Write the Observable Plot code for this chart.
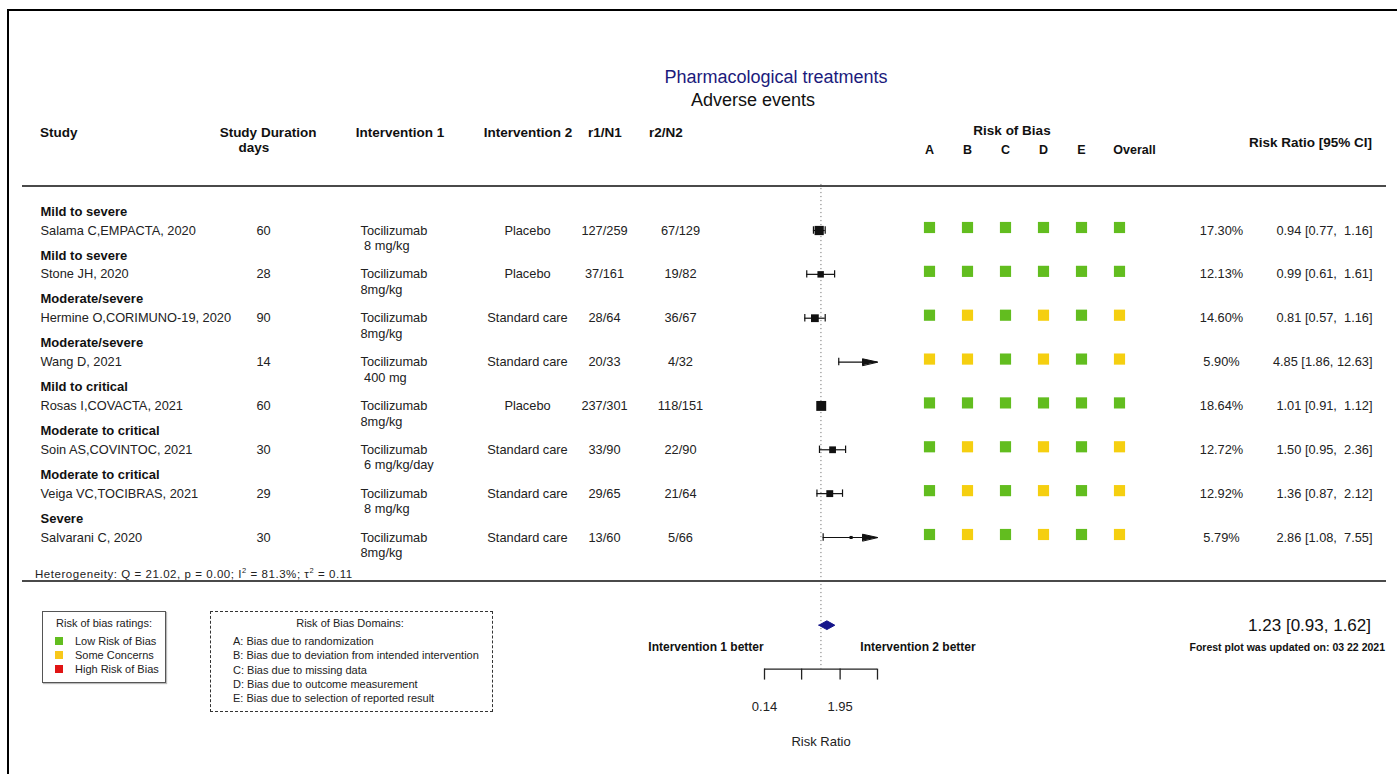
<!DOCTYPE html>
<html><head><meta charset="utf-8">
<script src="https://cdn.jsdelivr.net/npm/d3@7"></script>
<script src="https://cdn.jsdelivr.net/npm/@observablehq/plot@0.6"></script>
<style>
body{margin:0;background:#fff;font-family:"Liberation Sans",Arial,sans-serif;}
#chart{position:relative;width:1397px;height:774px;overflow:hidden;background:#fff;}
#chart svg{position:absolute;left:0;top:0;overflow:visible;}
#chart svg text{white-space:pre;}
.t{position:absolute;white-space:pre;color:#222;line-height:1;}
.box{position:absolute;box-sizing:border-box;}
</style></head><body><div id="chart"></div>
<script>
// ---------- data ----------
const studies = ["Salama C,EMPACTA, 2020", "Stone JH, 2020", "Hermine O,CORIMUNO-19, 2020", "Wang D, 2021",
  "Rosas I,COVACTA, 2021", "Soin AS,COVINTOC, 2021", "Veiga VC,TOCIBRAS, 2021", "Salvarani C, 2020"];
const severity = ["Mild to severe", "Mild to severe", "Moderate/severe", "Moderate/severe",
  "Mild to critical", "Moderate to critical", "Moderate to critical", "Severe"];
const durationDays = [60, 28, 90, 14, 60, 30, 29, 30];
const intervention1 = ["Tocilizumab", "Tocilizumab", "Tocilizumab", "Tocilizumab", "Tocilizumab", "Tocilizumab", "Tocilizumab", "Tocilizumab"];
const doses = [" 8 mg/kg", "8mg/kg", "8mg/kg", " 400 mg", "8mg/kg", " 6 mg/kg/day", " 8 mg/kg", "8mg/kg"];
const intervention2 = ["Placebo", "Placebo", "Standard care", "Standard care", "Placebo", "Standard care", "Standard care", "Standard care"];
const events1 = ["127/259", "37/161", "28/64", "20/33", "237/301", "33/90", "29/65", "13/60"];
const events2 = ["67/129", "19/82", "36/67", "4/32", "118/151", "22/90", "21/64", "5/66"];
const weights = [17.30, 12.13, 14.60, 5.90, 18.64, 12.72, 12.92, 5.79];
const riskRatio = [0.94, 0.99, 0.81, 4.85, 1.01, 1.50, 1.36, 2.86];
const ciLower = [0.77, 0.61, 0.57, 1.86, 0.91, 0.95, 0.87, 1.08];
const ciUpper = [1.16, 1.61, 1.16, 12.63, 1.12, 2.36, 2.12, 7.55];
const robDomains = ["A", "B", "C", "D", "E", "Overall"];
const robRatings = [
  ["Low", "Low", "Low", "Low", "Low", "Low"],
  ["Low", "Low", "Low", "Low", "Low", "Low"],
  ["Low", "Some", "Low", "Some", "Low", "Some"],
  ["Some", "Some", "Low", "Some", "Low", "Some"],
  ["Low", "Low", "Low", "Low", "Low", "Low"],
  ["Low", "Some", "Low", "Some", "Low", "Some"],
  ["Low", "Some", "Low", "Some", "Low", "Some"],
  ["Low", "Some", "Low", "Some", "Low", "Some"]
];
const robLevels = ["Low", "Some", "High"];
const robLevelLabels = ["Low Risk of Bias", "Some Concerns", "High Risk of Bias"];
const robColors = ["#62bd1f", "#f5cf10", "#e01414"];
const legendSwatchColors = ["#62bd1f", "#f8c81a", "#e01414"];
const robDomainLabels = ["A: Bias due to randomization", "B: Bias due to deviation from intended intervention",
  "C: Bias due to missing data", "D: Bias due to outcome measurement", "E: Bias due to selection of reported result"];
const axisTicks = [0.14, 0.51, 1.95, 7.17];
const axisLabelledTicks = [0.14, 1.95];
const summaryRR = [1.23, 0.93, 1.62];
const heterogeneity = ["21.02", "0.00", "81.3%", "0.11"];

// ---------- layout ----------
const W = 1397, H = 774;
const yScale = {domain: [0, 9], range: [230, 624.7], axis: null};   // row index -> pixels
const xMin = axisTicks[0], xMax = axisTicks[axisTicks.length - 1];
const font = "'Liberation Sans', Arial, sans-serif";
const ink = "#222";

const rows = studies.map((s, i) => ({
  i, study: s, sev: severity[i], dur: String(durationDays[i]), int1: intervention1[i], dose: doses[i],
  int2: intervention2[i], e1: events1[i], e2: events2[i], w: weights[i], rr: riskRatio[i],
  lo: ciLower[i], hi: ciUpper[i]
}));
const fmtCI = (rr, lo, hi) => `${rr.toFixed(2)} [${lo.toFixed(2)}, ${hi.toFixed(2).padStart(5)}]`;
const robCells = rows.flatMap(r => robDomains.map((dm, j) => ({i: r.i, domain: dm, rating: robRatings[r.i][j]})));

const chart = document.getElementById("chart");

// forest plot
const arrowHead = {draw(ctx, l) { ctx.moveTo(0, -l); ctx.lineTo(-3.3, 0); ctx.lineTo(3.3, 0); ctx.closePath(); }};
const diamond = [
  {x: summaryRR[1], y: 9}, {x: summaryRR[0], y: 9 - 0.1}, {x: summaryRR[2], y: 9}, {x: summaryRR[0], y: 9 + 0.1}, {x: summaryRR[1], y: 9}
];
const axisRow = 10;

const forest = Plot.plot({
  width: W, height: H, marginTop: 0, marginLeft: 0, marginRight: 0, marginBottom: H - 668.6,
  style: {fontFamily: font, fontSize: "13px", color: ink, background: "transparent"},
  x: {type: "log", domain: [xMin, xMax], range: [764, 877]},
  y: yScale,
  r: {type: "linear", domain: [0, d3.max(weights)], range: [0, 5.6]},
  marks: [
    Plot.ruleX([1], {y1: -1.05, y2: axisRow, stroke: "#777", strokeDasharray: "1.2,2.8", strokeWidth: 1}),
    Plot.ruleY(rows, {y: "i", x1: "lo", x2: d => Math.min(d.hi, xMax), stroke: "#111", strokeWidth: 1.2}),
    Plot.ruleX(rows, {x: "lo", y1: d => d.i - 0.085, y2: d => d.i + 0.085, stroke: "#111", strokeWidth: 1.2}),
    Plot.ruleX(rows.filter(d => d.hi <= xMax), {x: "hi", y1: d => d.i - 0.085, y2: d => d.i + 0.085, stroke: "#111", strokeWidth: 1.2}),
    Plot.dot(rows, {x: "rr", y: "i", r: "w", symbol: "square", fill: "#111", stroke: null}),
    Plot.vector(rows.filter(d => d.hi > xMax), {x: xMax, y: "i", rotate: 90, length: 15, anchor: "end", shape: arrowHead, fill: "#111", stroke: "#111", strokeWidth: 1}),
    Plot.line(diamond, {x: "x", y: "y", fill: "#14148a", stroke: "#14148a", strokeWidth: 1}),
    Plot.ruleY([axisRow], {x1: xMin, x2: xMax, stroke: "#222", strokeWidth: 1.3}),
    Plot.axisX(axisTicks, {anchor: "bottom", tickSize: 11, strokeWidth: 1.3, tickFormat: null, label: null}),
    Plot.text(axisLabelledTicks, {x: d => d, y: axisRow, dy: 38, text: d => d.toFixed(2), fontSize: 13, fill: ink}),
    Plot.text(["Risk Ratio"], {x: Math.sqrt(xMin * xMax), y: axisRow, dy: 73, text: d => d, fontSize: 13, fill: ink})
  ]
});
chart.appendChild(forest);

// table + risk of bias grid
const tcol = {study: 40, dur: 263, int1: 360, int2: 527, e1: 604, e2: 680, w: 1221, ci: 1372};
const txt = (field, dx, anchor, extra = {}) =>
  Plot.text(rows, {y: "i", text: field, frameAnchor: "left", dx, textAnchor: anchor, fill: ink, fontSize: 12.8, ...extra});
const grid = Plot.plot({
  width: W, height: H, margin: 0,
  style: {fontFamily: font, fontSize: "13px", color: ink, background: "transparent"},
  x: {type: "point", domain: robDomains, range: [929, 1119], padding: 0, axis: null},
  y: yScale,
  color: {domain: robLevels, range: robColors},
  marks: [
    Plot.dot(robCells, {x: "domain", y: "i", fill: "rating", symbol: "square", r: 6.3, dy: -3}),
    Plot.text(robDomains.slice(0, 5), {x: d => d, y: -1.83, text: d => d, fontWeight: "bold", fontSize: 12.5, fill: "#111"}),
    Plot.text(robDomains.slice(5), {x: d => d, y: -1.83, text: d => d, dx: 15, fontWeight: "bold", fontSize: 12.5, fill: "#111"}),
    txt("sev", tcol.study, "start", {dy: -19, fontWeight: "bold", fontSize: 13, fill: "#111"}),
    txt("study", tcol.study, "start"),
    txt("dur", tcol.dur, "middle"),
    txt("int1", tcol.int1, "start"),
    txt("dose", tcol.int1, "start", {dy: 15.5}),
    txt("int2", tcol.int2, "middle"),
    txt("e1", tcol.e1, "middle"),
    txt("e2", tcol.e2, "middle"),
    txt(d => d.w.toFixed(2) + "%", tcol.w, "middle"),
    txt(d => fmtCI(d.rr, d.lo, d.hi), tcol.ci, "end")
  ]
});
chart.appendChild(grid);

// ---------- html text & decorations ----------
function label(html, x, y, o = {}) {
  const el = document.createElement("div");
  el.className = "t";
  el.innerHTML = html;
  const a = o.anchor || "start";
  el.style.left = x + "px"; el.style.top = y + "px";
  el.style.transform = `translate(${a === "middle" ? "-50%" : a === "end" ? "-100%" : "0"},-50%)`;
  el.style.fontSize = (o.size || 13) + "px";
  if (o.bold) el.style.fontWeight = "bold";
  if (o.color) el.style.color = o.color;
  if (o.spacing) el.style.letterSpacing = o.spacing + "px";
  chart.appendChild(el);
  return el;
}
function box(x, y, w, h, css) {
  const el = document.createElement("div");
  el.className = "box";
  Object.assign(el.style, {left: x + "px", top: y + "px", width: w + "px", height: h + "px"}, css);
  chart.appendChild(el);
  return el;
}
// frame
box(7, 9, 1392, 2, {background: "#000"});
box(7, 9, 2, 770, {background: "#000"});
// rules
box(22, 185, 1364, 2, {background: "#4a4a4a"});
box(22, 580, 1364, 2, {background: "#4a4a4a"});

label("Pharmacological treatments", 776, 77, {anchor: "middle", size: 18, color: "#1b1b7c"});
label("Adverse events", 753, 100, {anchor: "middle", size: 18, color: "#111"});

const H1 = {bold: true, size: 13.5, color: "#111"};
label("Study", 40, 133, H1);
label("Study Duration", 268, 133, {...H1, anchor: "middle"});
label("days", 254, 148, {...H1, anchor: "middle"});
label("Intervention 1", 400, 133, {...H1, anchor: "middle"});
label("Intervention 2", 528, 133, {...H1, anchor: "middle"});
label("r1/N1", 605, 133, {...H1, anchor: "middle"});
label("r2/N2", 666, 133, {...H1, anchor: "middle"});
label("Risk of Bias", 1012, 131, {...H1, anchor: "middle"});
label("Risk Ratio [95% CI]", 1372, 143, {...H1, anchor: "end"});

label(`Heterogeneity: Q = ${heterogeneity[0]}, p = ${heterogeneity[1]}; I<sup style="font-size:7.5px">2</sup> = ${heterogeneity[2]}; τ<sup style="font-size:7.5px">2</sup> = ${heterogeneity[3]}`, 35, 574, {size: 11.5, spacing: 0.55});

label("Intervention 1 better", 706, 647, {anchor: "middle", bold: true, size: 12, color: "#111"});
label("Intervention 2 better", 918, 647, {anchor: "middle", bold: true, size: 12, color: "#111"});
label(`${summaryRR[0].toFixed(2)} [${summaryRR[1].toFixed(2)}, ${summaryRR[2].toFixed(2)}]`, 1371, 625, {anchor: "end", size: 17, color: "#111"});
label("Forest plot was updated on: 03 22 2021", 1385, 647, {anchor: "end", bold: true, size: 10.5, color: "#111"});

// legend 1
box(42, 611, 124, 72, {border: "1px solid #555", boxShadow: "1px 1px 1px #bbb"});
label("Risk of bias ratings:", 104, 623, {anchor: "middle", size: 11});
robLevelLabels.forEach((t, k) => {
  box(55, 637 + 14.2 * k, 8, 8, {background: legendSwatchColors[k]});
  label(t, 75, 641 + 14.2 * k, {size: 11});
});
// legend 2
box(210, 611, 283, 101, {border: "1px dashed #333"});
label("Risk of Bias Domains:", 350, 623, {anchor: "middle", size: 11});
robDomainLabels.forEach((t, k) => label(t, 233, 641 + 14.3 * k, {size: 11}));
</script></body></html>
